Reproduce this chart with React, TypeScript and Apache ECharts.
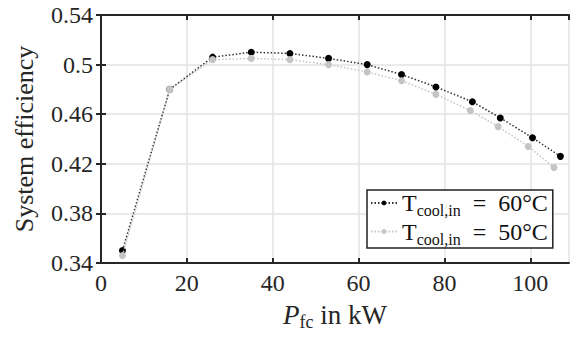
import React, { useEffect, useRef } from "react";
import * as echarts from "echarts";

const x60 = [5, 16, 26, 35, 44, 53, 62, 70, 78, 86.5, 93, 100.5, 107];
const y60 = [0.35, 0.48, 0.506, 0.51, 0.509, 0.505, 0.5, 0.492, 0.482, 0.47, 0.457, 0.441, 0.426];
const x50 = [5, 16, 26, 35, 44, 53, 62, 70, 78, 86, 92.5, 99.5, 105.5];
const y50 = [0.346, 0.48, 0.504, 0.505, 0.504, 0.5, 0.494, 0.487, 0.476, 0.463, 0.45, 0.434, 0.417];
const seriesNames = ["60", "50"];

const FONT = "Liberation Serif";

export default function App() {
  const ref = useRef<HTMLDivElement>(null);
  useEffect(() => {
    const chart = echarts.init(ref.current!, null, { renderer: "svg" });
    const axisCommon = {
      axisLine: { show: true, lineStyle: { color: "#262626", width: 2 } },
      axisTick: { show: true, inside: true, length: 5, lineStyle: { color: "#262626", width: 2 } },
    };
    chart.setOption({
      animation: false,
      backgroundColor: "#fff",
      textStyle: { fontFamily: FONT },
      grid: { left: 101, top: 15, right: 11, bottom: 77, containLabel: false, outerBoundsMode: "none" },
      legend: {
        show: true,
        left: 367,
        top: 190,
        orient: "vertical",
        borderColor: "#222",
        borderWidth: 1.5,
        backgroundColor: "#fff",
        padding: [1, 5, 1, 3],
        itemGap: 1,
        itemWidth: 26,
        itemHeight: 6,
        data: seriesNames.map((n) => ({ name: n })),
        formatter: (n: string) => `{t|T}{s|cool,in}{t|  =  ${n}°C}`,
        textStyle: {
          fontFamily: FONT,
          rich: {
            t: { fontFamily: FONT, fontSize: 24, color: "#111", lineHeight: 31, verticalAlign: "middle" },
            s: { fontFamily: FONT, fontSize: 16, color: "#111", lineHeight: 31, verticalAlign: "bottom" },
          },
        },
      },
      xAxis: [
        {
          type: "value",
          min: 0,
          max: 109,
          interval: 20,
          position: "bottom",
          ...axisCommon,
          axisLabel: { fontFamily: FONT, fontSize: 24, color: "#262626", margin: 8, showMaxLabel: false },
          splitLine: { show: true, lineStyle: { color: "#e3e3e3", width: 1.5 } },
          name: "{p|P}{s|fc}{n| in kW}",
          nameLocation: "middle",
          nameGap: 36,
          nameTextStyle: {
            fontFamily: FONT,
            rich: {
              p: { fontFamily: FONT, fontStyle: "italic", fontSize: 27, color: "#262626", lineHeight: 32, verticalAlign: "middle" },
              s: { fontFamily: FONT, fontSize: 18, color: "#262626", lineHeight: 32, verticalAlign: "bottom" },
              n: { fontFamily: FONT, fontSize: 27, color: "#262626", lineHeight: 32, verticalAlign: "middle" },
            },
          },
        },
        {
          type: "value",
          min: 0,
          max: 109,
          interval: 20,
          position: "top",
          ...axisCommon,
          axisLabel: { show: false },
          splitLine: { show: false },
        },
      ],
      yAxis: [
        {
          type: "value",
          min: 0.34,
          max: 0.54,
          interval: 0.04,
          position: "left",
          ...axisCommon,
          axisLabel: { fontFamily: FONT, fontSize: 24, color: "#262626", margin: 8 },
          splitLine: { show: true, lineStyle: { color: "#e3e3e3", width: 1.5 } },
          name: "System efficiency",
          nameLocation: "middle",
          nameGap: 64,
          nameTextStyle: { fontFamily: FONT, fontSize: 26, color: "#262626" },
        },
        {
          type: "value",
          min: 0.34,
          max: 0.54,
          interval: 0.04,
          position: "right",
          ...axisCommon,
          axisLabel: { show: false },
          splitLine: { show: false },
        },
      ],
      series: [
        {
          name: "60",
          type: "line",
          data: x60.map((x, i) => [x, y60[i]]),
          symbol: "circle",
          symbolSize: 7,
          itemStyle: { color: "#000" },
          lineStyle: { color: "#333", width: 1.5, type: [1.5, 2] },
          z: 3,
        },
        {
          name: "50",
          type: "line",
          data: x50.map((x, i) => [x, y50[i]]),
          symbol: "circle",
          symbolSize: 7,
          itemStyle: { color: "#c4c4c4" },
          lineStyle: { color: "#c4c4c4", width: 1.5, type: [1.5, 2] },
          z: 4,
        },
      ],
    });
    return () => chart.dispose();
  }, []);
  return <div ref={ref} style={{ width: 580, height: 340, margin: -8 }} />;
}
